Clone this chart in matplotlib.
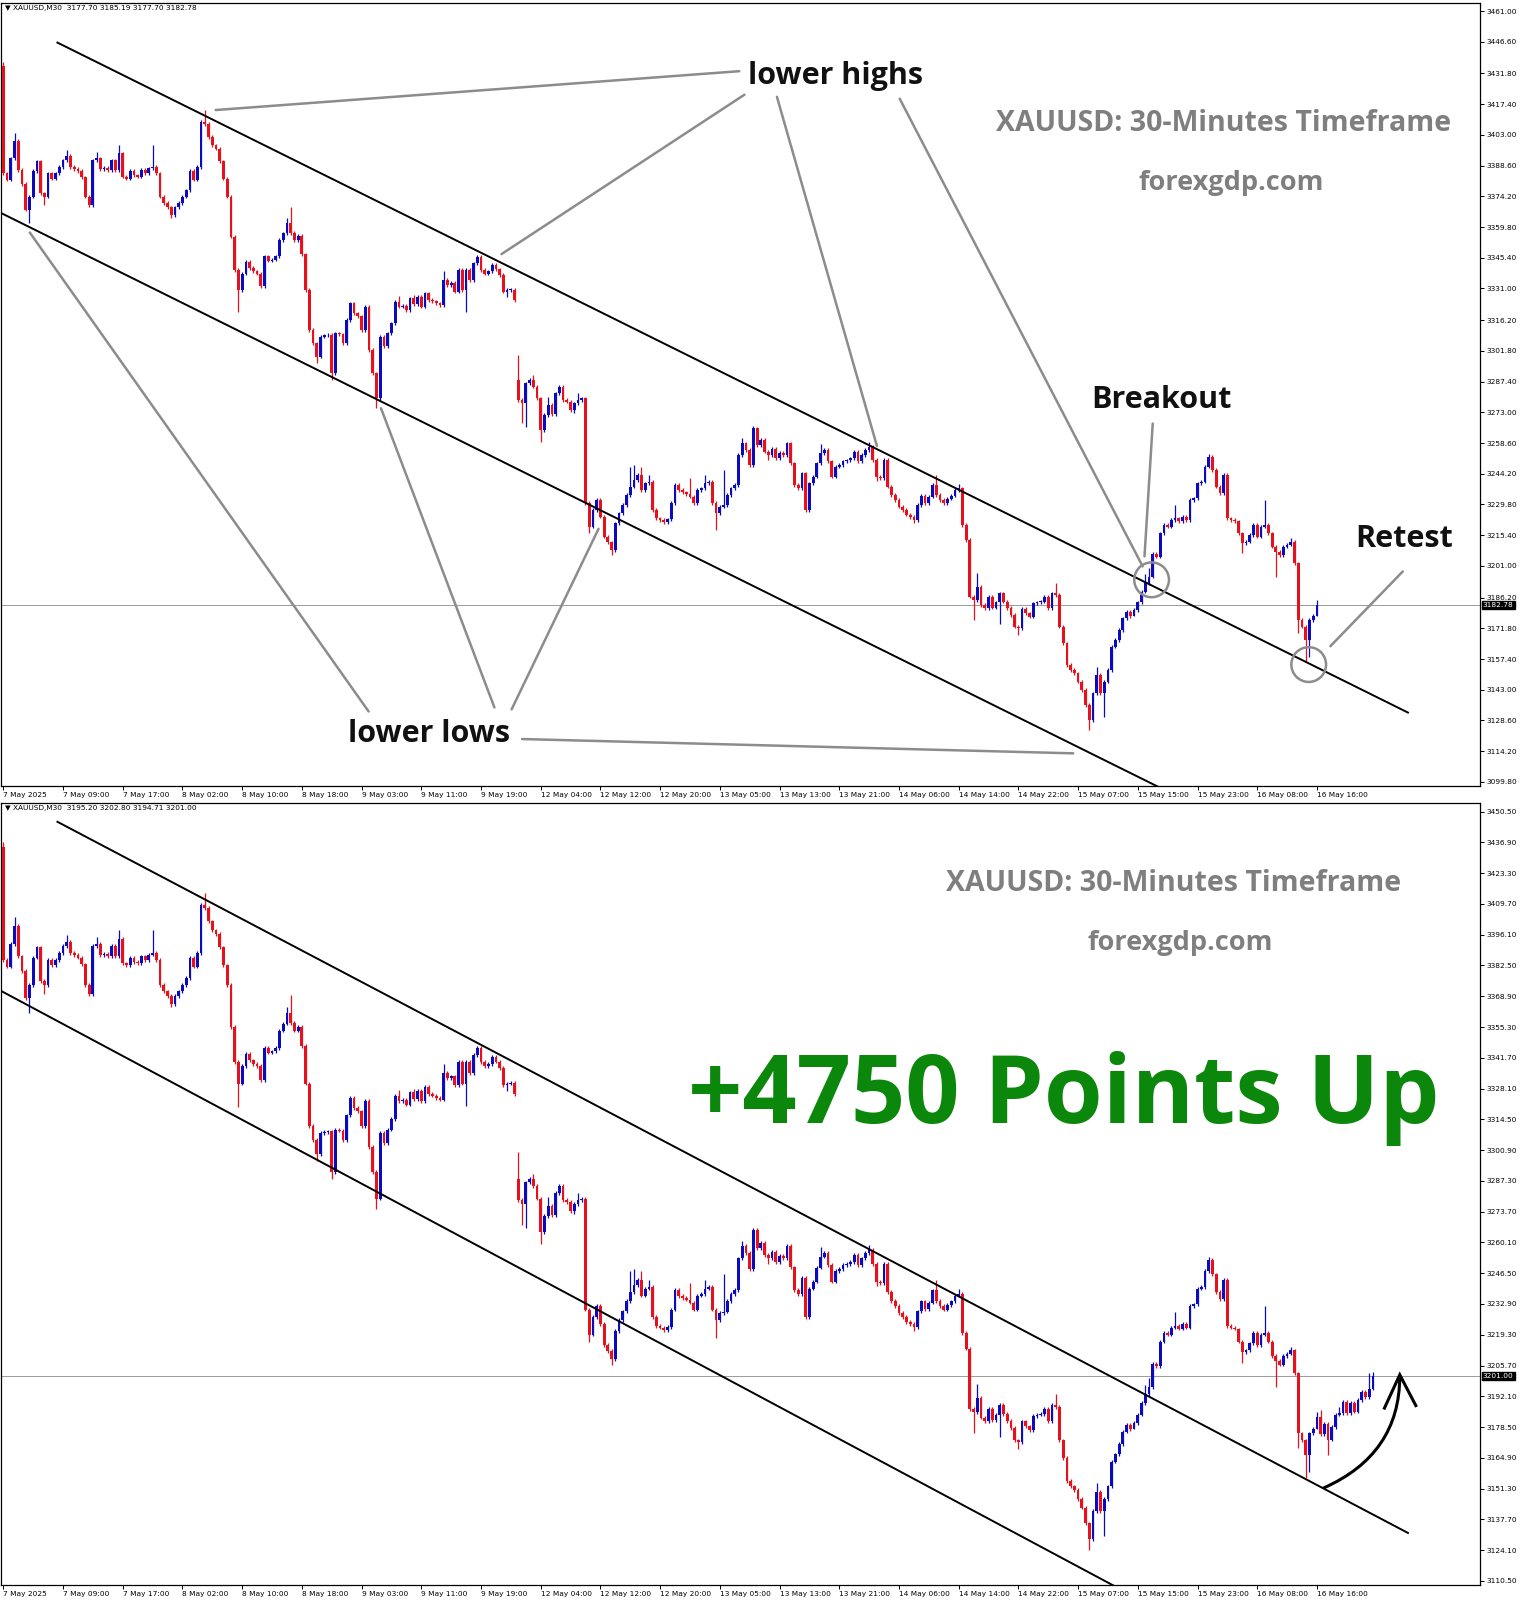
import matplotlib
matplotlib.use("Agg")
import matplotlib.pyplot as plt
from matplotlib.patches import Ellipse, PathPatch
from matplotlib.path import Path

# ---- candle data (XAUUSD M30), one close per bar, open = previous close ----
closes = [
    3385, 3382, 3392, 3400, 3386.5, 3380, 3368, 3374, 3386, 3390.5, 3375.6, 3374, 3385, 3382.5, 3385, 3388,
    3391, 3393, 3388, 3387, 3386, 3383, 3374, 3370, 3391, 3392, 3387, 3387.5, 3386.5, 3391, 3386.5, 3394.3,
    3383.4, 3382.5, 3386, 3384, 3383.4, 3386.5, 3385, 3387.3, 3388, 3385, 3374, 3371, 3369, 3365.4, 3369, 3371,
    3374, 3377, 3386, 3382, 3388, 3409.2, 3408, 3402, 3398, 3396.5, 3390.5, 3382.5, 3374, 3355.3, 3339.7, 3330.3,
    3338, 3343.5, 3340.5, 3339, 3338, 3332, 3346, 3344, 3344.5, 3346, 3353.7, 3356.8, 3361.5, 3357, 3353.7, 3355.5,
    3347, 3330.3, 3311.6, 3305.3, 3299, 3308.4, 3309, 3309.2, 3291.3, 3310, 3309.5, 3305.3, 3316.2, 3324, 3319.4, 3318,
    3311.6, 3322.5, 3302.2, 3291.3, 3279.5, 3308.4, 3304, 3310, 3314.7, 3324.8, 3322.5, 3323, 3321, 3326.4, 3323.5, 3327.2,
    3322.5, 3328.7, 3325.6, 3325, 3324, 3323.2, 3335, 3332.6, 3333.5, 3329.5, 3339.7, 3330.3, 3339.7, 3335, 3342.8, 3345.9,
    3339.7, 3338, 3339, 3342, 3340, 3337.3, 3329.5, 3330.3, 3330.5, 3325.6, 3278.8, 3277.2, 3286.6, 3288.1, 3285, 3279.5,
    3264.7, 3271.7, 3276.4, 3272, 3281.9, 3285, 3278.8, 3278, 3274.1, 3277.2, 3278.8, 3279.5, 3230.4, 3219.4, 3227.2, 3231.9,
    3224.1, 3214.7, 3212, 3208.5, 3221, 3225.7, 3229.6, 3234.3, 3238.2, 3241.3, 3243.6, 3236.6, 3239.7, 3240.5, 3227.2, 3223.3,
    3222.5, 3221.5, 3222.8, 3230.4, 3239, 3236.5, 3235.5, 3234.8, 3233.5, 3230.4, 3236.6, 3237.4, 3239.7, 3240.5, 3230.4, 3225.7,
    3228.8, 3229.5, 3234.3, 3237.4, 3239, 3253, 3258.5, 3255.4, 3248.3, 3265.5, 3257.7, 3260, 3254.6, 3253, 3256, 3251.4,
    3254, 3253, 3258.5, 3249.1, 3239, 3237.4, 3244.4, 3227.2, 3239.7, 3242.8, 3249, 3253.8, 3255.4, 3250, 3242.8, 3247.5,
    3248.3, 3250, 3250.5, 3251.4, 3254.6, 3250, 3253, 3255.4, 3256.9, 3250.7, 3242.8, 3242, 3250.7, 3238.2, 3234.3, 3231.9,
    3228.8, 3227.2, 3225, 3224, 3222.6, 3229.6, 3234, 3230.5, 3233.5, 3238.9, 3234.3, 3231.9, 3230.4, 3232.5, 3234, 3236.6,
    3237.4, 3220.2, 3213.2, 3186.6, 3185, 3191.3, 3182.7, 3181.2, 3186.6, 3181.5, 3184, 3188.2, 3184.3, 3181.2, 3178, 3172.6,
    3172, 3181, 3178.8, 3177.3, 3183.5, 3184, 3184.3, 3186.6, 3181.2, 3188.2, 3187.4, 3172.6, 3164.8, 3154.6, 3152.3, 3150.7,
    3146.8, 3142.9, 3135.9, 3128.9, 3141.3, 3149.9, 3141.3, 3146.8, 3152.3, 3163.2, 3166.4, 3171, 3176.5, 3179.6, 3177.5, 3180.4,
    3184, 3189, 3192.9, 3196, 3206.5, 3205.4, 3216.3, 3220.2, 3219.4, 3222.5, 3223.3, 3222, 3224.1, 3222.5, 3231.9, 3232.7,
    3239.7, 3240.5, 3247.5, 3252.2, 3246, 3238.2, 3235, 3243.6, 3223.3, 3222.5, 3222, 3216.3, 3211.6, 3212.4, 3215.5, 3220.2,
    3214.7, 3219.4, 3220.2, 3216.3, 3210, 3207.7, 3206.1, 3210, 3211, 3212.4, 3202.2, 3175.7, 3172.6, 3166.3, 3175.7, 3177.7,
    3182.78, 3175.5, 3180, 3173, 3178.5, 3184, 3184.5, 3189.7, 3184.6, 3189, 3185.3, 3190.5, 3194.1, 3191.9, 3195.2, 3201.0,
]
first_open = 3435.0
gap_bar, gap_open = 138, 3288.0      # weekend gap (12 May open)
top_bars = 353                       # first screenshot ends at 16 May 16:00

# notable wick extremes (bar: price)
highs = {0: 3437, 3: 3404, 17: 3396, 25: 3395, 31: 3398, 40: 3398, 54: 3414.6, 76: 3364,
         77: 3369.3, 106: 3327.5, 110: 3328, 118: 3339, 138: 3299.9, 142: 3290.5, 146: 3280,
         154: 3282, 168: 3247.5, 169: 3248.3, 171: 3247.5, 173: 3243.5, 184: 3242, 188: 3243.6,
         193: 3246, 198: 3260.8, 201: 3266.5, 219: 3258, 232: 3259, 250: 3243.6, 256: 3239.5,
         261: 3197.6, 282: 3192.9, 293: 3153.8, 306: 3197, 307: 3200, 314: 3229.5, 323: 3253.5,
         331: 3222.5, 338: 3231.9, 345: 3214, 352: 3185.19, 353: 3186, 358: 3187.5, 359: 3190.5,
         366: 3202.3, 367: 3202.8}
lows = {7: 3361.5, 11: 3370, 45: 3364, 63: 3320, 84: 3296, 88: 3288, 100: 3274.9, 124: 3320.2,
        135: 3327, 139: 3267.8, 140: 3266.3, 144: 3259.2, 153: 3272.5, 157: 3216.3, 163: 3206,
        178: 3220.5, 191: 3217.9, 205: 3250.5, 234: 3241, 244: 3221, 260: 3175.7, 267: 3174,
        272: 3168.7, 291: 3124.2, 295: 3130.4, 303: 3177.5, 332: 3207, 341: 3196, 347: 3169.4,
        349: 3156.2, 350: 3158.5, 352: 3177.7, 355: 3166.2, 367: 3194.71}

time_labels = ["7 May 2025", "7 May 09:00", "7 May 17:00", "8 May 02:00", "8 May 10:00",
               "8 May 18:00", "9 May 03:00", "9 May 11:00", "9 May 19:00", "12 May 04:00",
               "12 May 12:00", "12 May 20:00", "13 May 05:00", "13 May 13:00", "13 May 21:00",
               "14 May 06:00", "14 May 14:00", "14 May 22:00", "15 May 07:00", "15 May 15:00",
               "15 May 23:00", "16 May 08:00", "16 May 16:00"]
bars_per_label = 16

top_ticks = [3461.00, 3446.60, 3431.80, 3417.40, 3403.00, 3388.60, 3374.20, 3359.80, 3345.40,
             3331.00, 3316.20, 3301.80, 3287.40, 3273.00, 3258.60, 3244.20, 3229.80, 3215.40,
             3201.00, 3186.20, 3171.80, 3157.40, 3143.00, 3128.60, 3114.20, 3099.80]
bot_ticks = [3450.50, 3436.90, 3423.30, 3409.70, 3396.10, 3382.50, 3368.90, 3355.30, 3341.70,
             3328.10, 3314.50, 3300.90, 3287.30, 3273.70, 3260.10, 3246.50, 3232.90, 3219.30,
             3205.70, 3192.10, 3178.50, 3164.90, 3151.30, 3137.70, 3124.10, 3110.50]

top_header = "\u25bc XAUUSD,M30  3177.70 3185.19 3177.70 3182.78"
bot_header = "\u25bc XAUUSD,M30  3195.20 3202.80 3194.71 3201.00"

# channel lines (bar, price) per screenshot
top_upper = [(14.5, 3446.2), (376.4, 3132.3)]
top_lower = [(-1, 3366.7), (309.5, 3097.5)]
bot_upper = [(14.5, 3446.0), (376.4, 3131.7)]
bot_lower = [(-1, 3371.6), (298, 3108.0)]

BULL = "#0a0ac0"
BEAR = "#e8101a"
GREY = "#8c8c8c"
ANN_FONT = ["Open Sans", "DejaVu Sans"]


def ohlc(n):
    o, h, l = [], [], []
    for i in range(n):
        op = first_open if i == 0 else closes[i - 1]
        if i == gap_bar:
            op = gap_open
        c = closes[i]
        o.append(op)
        h.append(highs.get(i, max(op, c) + 0.8))
        l.append(lows.get(i, min(op, c) - 0.8))
    return o, h, l


def draw_candles(ax, n):
    o, h, l = ohlc(n)
    c = closes[:n]
    x = list(range(n))
    cols = [BULL if c[i] >= o[i] else BEAR for i in x]
    ax.vlines(x, l, h, colors=cols, linewidth=0.9, zorder=2)
    bottoms = [min(o[i], c[i]) for i in x]
    heights = [max(abs(c[i] - o[i]), 0.4) for i in x]
    ax.bar(x, heights, bottom=bottoms, width=0.74, color=cols, linewidth=0, zorder=3)


def style_axis(ax, ylim, ticks, last, header):
    ax.set_xlim(-0.62, 395.7)
    ax.set_ylim(*ylim)
    for s in ax.spines.values():
        s.set_color("black")
        s.set_linewidth(0.9)
    ax.yaxis.tick_right()
    ax.set_yticks(ticks)
    ax.set_yticklabels([f"{t:.2f}" for t in ticks])
    ax.tick_params(axis="y", direction="out", length=3, width=0.7, pad=1.5, labelsize=5.3)
    pos = [i * bars_per_label for i in range(len(time_labels))]
    ax.set_xticks(pos)
    ax.set_xticklabels(time_labels)
    ax.tick_params(axis="x", direction="out", length=3, width=0.7, pad=1.5, labelsize=5.3)
    for lab in ax.get_xticklabels():
        lab.set_horizontalalignment("left")
    ax.axhline(last, color="#9a9a9a", linewidth=0.7, zorder=1)
    ax.annotate(f"{last:.2f}", xy=(1.0, last), xycoords=("axes fraction", "data"),
                xytext=(2, 0), textcoords="offset points", ha="left", va="center",
                fontsize=5.3, color="white",
                bbox=dict(boxstyle="square,pad=0.15", fc="black", ec="black"))
    ax.text(0.003, 0.997, header, transform=ax.transAxes, ha="left", va="top",
            fontsize=5.3, family=["DejaVu Sans"])


def grey_line(ax, p, q, lw=1.8):
    ax.plot([p[0], q[0]], [p[1], q[1]], color=GREY, linewidth=lw, solid_capstyle="round", zorder=4)


fig = plt.figure(figsize=(15.26, 16), dpi=100)
ax1 = fig.add_axes([1 / 1526, 1 - 786 / 1600, 1479 / 1526, 783 / 1600])
ax2 = fig.add_axes([1 / 1526, 1 - 1585 / 1600, 1479 / 1526, 782 / 1600])

# --- top screenshot: breakout and retest ---
draw_candles(ax1, top_bars)
style_axis(ax1, (3097.9, 3464.75), top_ticks, closes[top_bars - 1], top_header)
for ln in (top_upper, top_lower):
    ax1.plot([ln[0][0], ln[1][0]], [ln[0][1], ln[1][1]], color="black", linewidth=1.4, zorder=4)

ax1.text(222.9, 3427.0, "lower highs", ha="center", va="baseline", fontsize=22,
         fontweight="bold", family=ANN_FONT, color="#111111", zorder=6)
for p, q in [((56.9, 3414.6), (197.2, 3432.8)), ((133.5, 3347.1), (198.6, 3421.8)),
             ((207.3, 3420.8), (234.1, 3257.2)), ((240.2, 3419.9), (305.3, 3200.8))]:
    grey_line(ax1, p, q)

ax1.text(114.1, 3118.5, "lower lows", ha="center", va="baseline", fontsize=22,
         fontweight="bold", family=ANN_FONT, color="#111111", zorder=6)
for p, q in [((7.1, 3357.2), (97.9, 3132.8)), ((101.2, 3274.9), (131.6, 3134.7)),
             ((159.5, 3218.4), (136.2, 3133.8)), ((139.0, 3119.9), (286.7, 3113.2))]:
    grey_line(ax1, p, q)

ax1.text(310.4, 3274.9, "Breakout", ha="center", va="baseline", fontsize=22,
         fontweight="bold", family=ANN_FONT, color="#111111", zorder=6)
grey_line(ax1, (308.0, 3267.7), (305.8, 3205.5))
ax1.text(375.3, 3209.8, "Retest", ha="center", va="baseline", fontsize=22,
         fontweight="bold", family=ANN_FONT, color="#111111", zorder=6)
grey_line(ax1, (375.0, 3198.4), (355.6, 3163.4))
for cx, cy in [(307.7, 3194.5), (349.8, 3154.8)]:
    ax1.add_patch(Ellipse((cx, cy), 9.3, 16.3, fill=False, edgecolor=GREY, linewidth=1.8, zorder=5))

ax1.text(327.1, 3405.0, "XAUUSD: 30-Minutes Timeframe", ha="center", va="baseline",
         fontsize=20.5, fontweight="bold", family=ANN_FONT, color="#7f7f7f", zorder=6)
ax1.text(329.0, 3377.3, "forexgdp.com", ha="center", va="baseline",
         fontsize=19.5, fontweight="bold", family=ANN_FONT, color="#7f7f7f", zorder=6)

# --- bottom screenshot: result ---
draw_candles(ax2, len(closes))
style_axis(ax2, (3108.7, 3454.3), bot_ticks, closes[-1], bot_header)
for ln in (bot_upper, bot_lower):
    ax2.plot([ln[0][0], ln[1][0]], [ln[0][1], ln[1][1]], color="black", linewidth=1.4, zorder=4)

ax2.text(313.5, 3415.3, "XAUUSD: 30-Minutes Timeframe", ha="center", va="baseline",
         fontsize=20.5, fontweight="bold", family=ANN_FONT, color="#7f7f7f", zorder=6)
ax2.text(315.4, 3389.2, "forexgdp.com", ha="center", va="baseline",
         fontsize=19.5, fontweight="bold", family=ANN_FONT, color="#7f7f7f", zorder=6)
ax2.text(284.2, 3313.0, "+4750 Points Up", ha="center", va="baseline", fontsize=68.5,
         fontweight="bold", family=ANN_FONT, color="#0b870b", zorder=6)

curve = Path([(353.7, 3151.5), (374.2, 3166.4), (374.2, 3201.0)],
             [Path.MOVETO, Path.CURVE3, Path.CURVE3])
ax2.add_patch(PathPatch(curve, fill=False, edgecolor="black", linewidth=2.2, zorder=6))
ax2.plot([370.1, 374.2, 378.5], [3186.9, 3201.6, 3188.0], color="black", linewidth=2.2,
         solid_joinstyle="miter", zorder=6)

fig.savefig("out.png", dpi=100, facecolor="white")
